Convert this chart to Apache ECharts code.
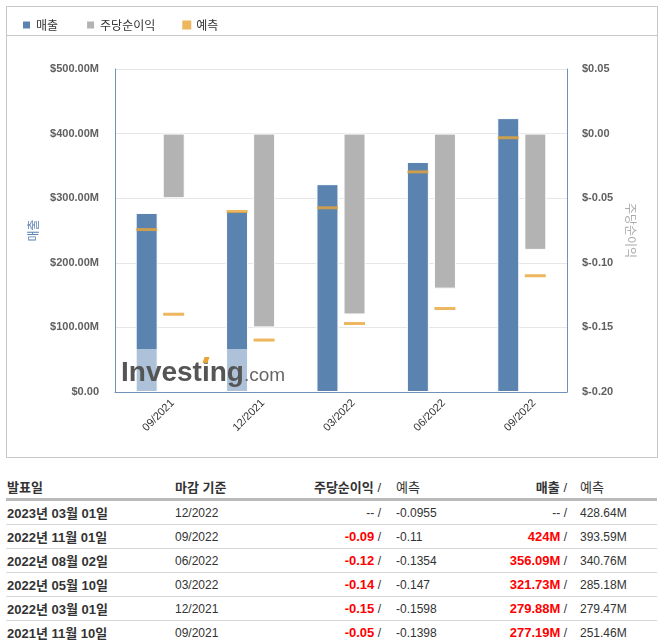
<!DOCTYPE html>
<html>
<head>
<meta charset="utf-8">
<script src="https://cdn.jsdelivr.net/npm/echarts@6/dist/echarts.min.js"></script>
<style>
    body { margin: 0; background: #fff; font-family: "Liberation Sans", "Noto Sans CJK KR", sans-serif; }
    .box { position: absolute; left: 6px; top: 6px; width: 650px; height: 450px; border: 1px solid #c8c8c8; }
    .legendline { position: absolute; left: 0; top: 28px; width: 650px; border-top: 1px solid #c8c8c8; }
    #chartDiv { position: absolute; left: 0; top: 0; width: 667px; height: 460px; }
    .tbl { position: absolute; left: 6px; top: 474px; width: 651px; border-collapse: collapse; table-layout: fixed; color: #333; }
    .tbl th { height: 24px; font-size: 13px; font-weight: bold; border-bottom: 3px solid #bbb; padding: 0; white-space: nowrap; }
    .tbl td { height: 23px; font-size: 12px; border-bottom: 1px solid #d8d8d8; padding: 0; white-space: nowrap; }
    .tbl tr:last-child td { border-bottom: none; }
    .tbl .c1 { text-align: left; padding-left: 1px; }
    .c1 b { font-size: 13px; }
    .tbl .c2 { text-align: left; padding-left: 1px; }
    .tbl .c3, .tbl .c5 { text-align: right; padding-right: 3px; }
    .tbl .c4 { text-align: left; padding-left: 12px; }
    .tbl .c6 { text-align: left; padding-left: 10px; }
    .red { color: #f00; font-weight: bold; font-size: 13px; }
    .tbl .n { font-weight: normal; }
</style>
</head>
<body>
<div class="box"><div class="legendline"></div></div>
<div id="chartDiv"></div>
<table class="tbl" id="tbl">
    <colgroup><col style="width:168px"><col style="width:110px"><col style="width:100px"><col style="width:110px"><col style="width:76px"><col style="width:87px"></colgroup>
    <thead><tr>
        <th class="c1">발표일</th><th class="c2">마감 기준</th>
        <th class="c3">주당순이익 <span class="n">/</span></th><th class="c4 n">예측</th>
        <th class="c5">매출 <span class="n">/</span></th><th class="c6 n">예측</th>
    </tr></thead>
    <tbody></tbody>
</table>
<script>
// 분기 (오래된 것부터)
var periods = ['09/2021', '12/2021', '03/2022', '06/2022', '09/2022'];
var releaseDates = ['2021년 11월 10일', '2022년 03월 01일', '2022년 05월 10일', '2022년 08월 02일', '2022년 11월 01일'];
// 매출 (백만 달러)
var revenue = [277.19, 279.88, 321.73, 356.09, 424];
var revenueForecast = [251.46, 279.47, 285.18, 340.76, 393.59];
// 주당순이익
var eps = [-0.05, -0.15, -0.14, -0.12, -0.09];
var epsForecast = [-0.1398, -0.1598, -0.147, -0.1354, -0.11];
// 다음 발표 예정
var nextRelease = '2023년 03월 01일';
var nextPeriod = '12/2022';
var nextEpsForecast = -0.0955;
var nextRevenueForecast = 428.64;

var blue = '#5b83b0';
var gray = '#b3b3b3';
var orange = '#e8a537';
var axisColor = '#6f92bb';

function buildTable() {
    var rows = [];
    rows.push('<tr><td class="c1"><b>' + nextRelease + '</b></td><td class="c2">' + nextPeriod + '</td>' +
        '<td class="c3">-- /</td><td class="c4">' + nextEpsForecast + '</td>' +
        '<td class="c5">-- /</td><td class="c6">' + nextRevenueForecast + 'M</td></tr>');
    for (var i = periods.length - 1; i >= 0; i--) {
        rows.push('<tr><td class="c1"><b>' + releaseDates[i] + '</b></td><td class="c2">' + periods[i] + '</td>' +
            '<td class="c3"><span class="red">' + eps[i].toFixed(2) + '</span> /</td><td class="c4">' + epsForecast[i] + '</td>' +
            '<td class="c5"><span class="red">' + revenue[i] + 'M</span> /</td><td class="c6">' + revenueForecast[i] + 'M</td></tr>');
    }
    document.querySelector('#tbl tbody').innerHTML = rows.join('');
}
buildTable();

var labelStyle = { fontFamily: 'Liberation Sans', fontSize: 11, fontWeight: 'bold', color: '#606060' };

var option = {
    animation: false,
    legend: {
        left: 16,
        top: 14,
        itemWidth: 9,
        itemHeight: 9,
        itemGap: 27,
        icon: 'rect',
        selectedMode: false,
        textStyle: { fontFamily: 'Noto Sans CJK KR', fontSize: 12, color: '#333' },
        data: ['매출', '주당순이익', '예측']
    },
    grid: { left: 115, right: 100, top: 69, bottom: 68 },
    xAxis: {
        type: 'category',
        data: periods,
        axisLine: { lineStyle: { color: axisColor } },
        axisTick: { length: 5, lineStyle: { color: axisColor } },
        axisLabel: {
            rotate: 45,
            margin: -3,
            verticalAlign: 'top',
            padding: [12, 0, 0, 0],
            fontFamily: 'Liberation Sans',
            fontSize: 11,
            color: '#333'
        }
    },
    yAxis: [
        {
            type: 'value',
            min: 0,
            max: 500,
            interval: 100,
            name: '매출',
            nameLocation: 'middle',
            nameRotate: 90,
            nameGap: 70,
            nameTextStyle: { fontFamily: 'Noto Sans CJK KR', fontSize: 12, color: blue },
            axisLine: { show: true, lineStyle: { color: axisColor } },
            axisTick: { show: false },
            splitLine: { lineStyle: { color: '#e6e6e6' } },
            axisLabel: {
                margin: 16,
                formatter: function (v) { return v === 0 ? '$0.00' : '$' + v.toFixed(2) + 'M'; },
                fontFamily: labelStyle.fontFamily, fontSize: labelStyle.fontSize, fontWeight: labelStyle.fontWeight, color: labelStyle.color
            }
        },
        {
            type: 'value',
            min: -0.2,
            max: 0.05,
            interval: 0.05,
            name: '주당순이익',
            nameLocation: 'middle',
            nameRotate: -90,
            nameGap: 51,
            nameTextStyle: { fontFamily: 'Noto Sans CJK KR', fontSize: 12, color: '#aaa' },
            axisLine: { show: true, lineStyle: { color: axisColor } },
            axisTick: { show: false },
            splitLine: { show: false },
            axisLabel: {
                margin: 15,
                formatter: function (v) { return '$' + v.toFixed(2); },
                fontFamily: labelStyle.fontFamily, fontSize: labelStyle.fontSize, fontWeight: labelStyle.fontWeight, color: labelStyle.color
            }
        }
    ],
    series: [
        {
            name: '매출',
            type: 'bar',
            yAxisIndex: 0,
            barWidth: 22,
            barGap: '23%',
            itemStyle: { color: blue, borderColor: '#fff', borderWidth: 1 },
            data: revenue
        },
        {
            name: '주당순이익',
            type: 'bar',
            yAxisIndex: 1,
            barWidth: 22,
            barGap: '23%',
            itemStyle: { color: gray, borderColor: '#fff', borderWidth: 1 },
            data: eps
        },
        {
            name: '예측',
            type: 'scatter',
            yAxisIndex: 0,
            symbol: 'rect',
            symbolSize: [21, 3],
            symbolOffset: [-13.5, 0],
            itemStyle: { color: orange },
            silent: true,
            data: revenueForecast
        },
        {
            name: '예측',
            type: 'scatter',
            yAxisIndex: 1,
            symbol: 'rect',
            symbolSize: [21, 3],
            symbolOffset: [13.5, 0],
            itemStyle: { color: orange },
            silent: true,
            data: epsForecast
        }
    ],
    // Investing.com 워터마크
    graphic: [
        { type: 'rect', z: 100, silent: true, shape: { x: 116, y: 349, width: 170, height: 42 }, style: { fill: 'rgba(255,255,255,0.5)' } },
        { type: 'text', z: 101, silent: true, x: 121, y: 359, style: { text: 'Investing', font: 'bold 28px "Liberation Sans"', fill: '#555' } },
        { type: 'text', z: 101, silent: true, x: 244, y: 366, style: { text: '.com', font: '19px "Liberation Sans"', fill: '#666' } },
        { type: 'polygon', z: 102, silent: true, shape: { points: [[202.5, 363], [204.5, 357], [209.5, 357], [207.5, 363]] }, style: { fill: orange } }
    ]
};

var myChart_1 = echarts.init(document.getElementById('chartDiv'));
myChart_1.setOption(option);
</script>
</body>
</html>
